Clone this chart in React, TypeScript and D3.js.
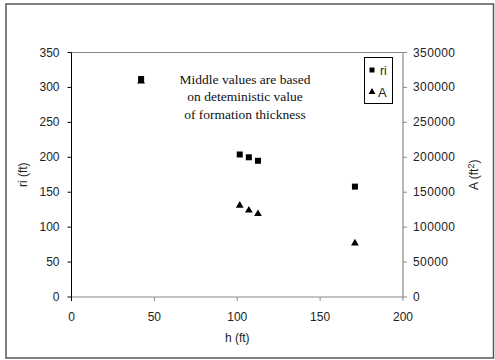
import React from "react";
import * as d3 from "d3";

const hValues = [42, 101.5, 107, 112.5, 171];
const riValues = [312, 204, 200, 195, 158];
const aValues = [309000, 131000, 124000, 119000, 77000];
const xTicks = [0, 50, 100, 150, 200];
const yLeftTicks = [0, 50, 100, 150, 200, 250, 300, 350];
const yRightTicks = [0, 50000, 100000, 150000, 200000, 250000, 300000, 350000];
const noteLines = ["Middle values are based", "on deteministic value", "of formation thickness"];

export default function App() {
  const left = 71.5, right = 403, top = 52.5, bottom = 297;
  const x = d3.scaleLinear().domain([0, 200]).range([left, right]);
  const yL = d3.scaleLinear().domain([0, 350]).range([bottom, top]);
  const yR = d3.scaleLinear().domain([0, 350000]).range([bottom, top]);
  const tri = d3.symbol().type(d3.symbolTriangle).size(26)();
  const font = "Liberation Sans, Arial, sans-serif";
  const grey = "#8a8a8a";
  return (
    <svg width={495} height={360} style={{ position: "absolute", left: 0, top: 0, background: "#fff" }}>
      <rect x={6} y={4} width={487.5} height={354} fill="#fff" stroke="#555" strokeWidth={1.5} />
      {/* plot frame */}
      <line x1={left} x2={right} y1={top} y2={top} stroke={grey} strokeWidth={1.2} />
      <line x1={left} x2={right} y1={bottom} y2={bottom} stroke={grey} strokeWidth={1.2} />
      <line x1={right} x2={right} y1={top} y2={bottom} stroke={grey} strokeWidth={1.2} />
      <line x1={left} x2={left} y1={top} y2={bottom} stroke="#000" strokeWidth={1} />
      {/* left ticks */}
      {yLeftTicks.map((t) => (
        <g key={"l" + t}>
          <line x1={left - 4} x2={left} y1={yL(t)} y2={yL(t)} stroke="#000" />
          <text x={left - 12} y={yL(t) + 4} textAnchor="end" fontFamily={font} fontSize={12} fill="#222">{t}</text>
        </g>
      ))}
      {/* right ticks */}
      {yRightTicks.map((t) => (
        <g key={"r" + t}>
          <line x1={right} x2={right + 4} y1={yR(t)} y2={yR(t)} stroke={grey} />
          <text x={right + 10} y={yR(t) + 4} textAnchor="start" fontFamily={font} fontSize={12} letterSpacing={0.4} fill="#222">{t}</text>
        </g>
      ))}
      {/* bottom ticks */}
      {xTicks.map((t) => (
        <g key={"b" + t}>
          <line x1={x(t)} x2={x(t)} y1={bottom} y2={bottom + 4} stroke={t === 0 ? "#000" : grey} />
          <text x={x(t)} y={bottom + 24} textAnchor="middle" fontFamily={font} fontSize={12} fill="#222">{t}</text>
        </g>
      ))}
      <text x={(left + right) / 2} y={bottom + 45} textAnchor="middle" fontFamily={font} fontSize={12} fill="#222">h (ft)</text>
      <text transform={`translate(27,${(top + bottom) / 2}) rotate(-90)`} textAnchor="middle" fontFamily={font} fontSize={12} fill="#222">ri (ft)</text>
      <text transform={`translate(478,${(top + bottom) / 2}) rotate(-90)`} textAnchor="middle" fontFamily={font} fontSize={12} fill="#222">
        A (ft<tspan dy={-4} fontSize={9}>2</tspan><tspan dy={4}>)</tspan>
      </text>
      {/* annotation */}
      {noteLines.map((s, i) => (
        <text key={s} x={245} y={83.5 + i * 17.5} textAnchor="middle" fontFamily="Liberation Serif, Times New Roman, serif" fontSize={13.5} fill="#111">{s}</text>
      ))}
      {/* data */}
      {hValues.map((h, i) => (
        <path key={"a" + i} d={tri!} transform={`translate(${x(h)},${yR(aValues[i])})`} fill="#000" />
      ))}
      {hValues.map((h, i) => (
        <rect key={"s" + i} x={x(h) - 3} y={yL(riValues[i]) - 3} width={6} height={6} fill="#000" />
      ))}
      {/* legend */}
      <rect x={364.5} y={57.5} width={28} height={46} fill="#fff" stroke="#000" strokeWidth={1} />
      <rect x={369.5} y={67.5} width={5} height={5} fill="#000" />
      <text x={380} y={75} fontFamily={font} fontSize={12} fill="#222">ri</text>
      <path d={d3.symbol().type(d3.symbolTriangle).size(20)()!} transform="translate(372,92)" fill="#000" />
      <text x={378} y={96.5} fontFamily={font} fontSize={13} fill="#222">A</text>
    </svg>
  );
}
